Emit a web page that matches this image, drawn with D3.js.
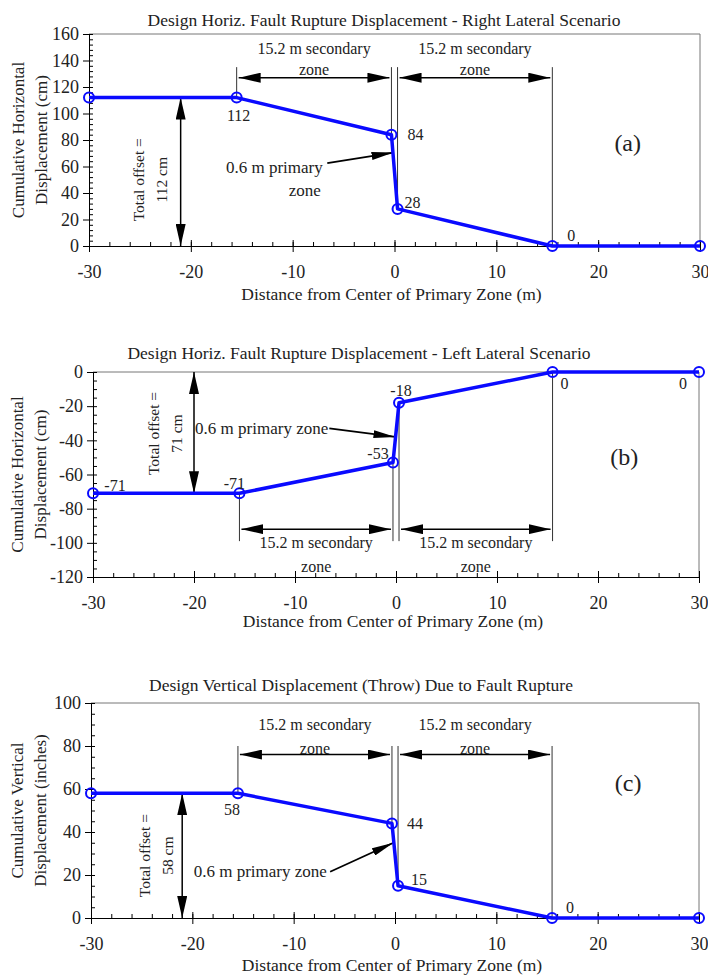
<!DOCTYPE html>
<html lang="en">
<head>
<meta charset="utf-8">
<title>Design fault rupture displacement</title>
<script src="https://cdn.jsdelivr.net/npm/d3@7"></script>
<style>
  body { margin: 0; background: #fff; }
  svg { display: block; font-family: "Liberation Serif", "Times New Roman", serif; }
  .axis text { font-family: "Liberation Serif", "Times New Roman", serif; font-size: 18px; fill: #222; }
  .axis path, .axis line { stroke: #000; }
</style>
</head>
<body>
<script>
// distance from center of primary zone (m)
var xDist = [-30, -15.5, -0.3, 0.3, 15.5, 30];

// cumulative displacement at each break point
var rightLateral = [112, 112, 84, 28, 0, 0];   // cm
var leftLateral = [-71, -71, -53, -18, 0, 0];  // cm
var verticalThrow = [58, 58, 44, 15, 0, 0];    // labelled inches on the axis, cm in the note

var labelsA = ["", "112", "84", "28", "0", ""];
var labelsB = ["-71", "-71", "-53", "-18", "0", "0"];
var labelsC = ["", "58", "44", "15", "0", ""];

var xTicks = [-30, -20, -10, 0, 10, 20, 30];
var yTicksA = [0, 20, 40, 60, 80, 100, 120, 140, 160];
var yTicksB = [-120, -100, -80, -60, -40, -20, 0];
var yTicksC = [0, 20, 40, 60, 80, 100];

var titles = [
  "Design Horiz. Fault Rupture Displacement - Right Lateral Scenario",
  "Design Horiz. Fault Rupture Displacement - Left Lateral Scenario",
  "Design Vertical Displacement (Throw) Due to Fault Rupture"
];
var xLabel = "Distance from Center of Primary Zone (m)";

var w = 708, h = 975;
var blue = "#0a0aff";
var ink = "#222";

var svg = d3.select("body").append("svg")
  .attr("width", w)
  .attr("height", h);

var defs = svg.append("defs");
defs.append("marker")
  .attr("id", "head")
  .attr("markerUnits", "userSpaceOnUse")
  .attr("markerWidth", 22).attr("markerHeight", 10)
  .attr("refX", 22).attr("refY", 5)
  .attr("orient", "auto-start-reverse")
  .append("path").attr("d", "M0,0L22,5L0,10Z").attr("fill", "#000");
defs.append("marker")
  .attr("id", "headSmall")
  .attr("markerUnits", "userSpaceOnUse")
  .attr("markerWidth", 22).attr("markerHeight", 8)
  .attr("refX", 22).attr("refY", 4)
  .attr("orient", "auto")
  .append("path").attr("d", "M0,0L22,4L0,8Z").attr("fill", "#000");

// layout of the three panels (pixels) and where the annotations sit (data units)
var panels = [
  {
    values: rightLateral, labels: labelsA, yTicks: yTicksA, yDomain: [0, 160], yMinor: 4,
    left: 89, right: 700, top: 34, bottom: 246,
    title: titles[0], titleX: 384, titleY: 20, xLabelY: 294,
    yLabel: ["Cumulative Horizontal", "Displacement (cm)"], yLabelX: [18, 41],
    labelOff: [[0, 0], [2, 18], [24, 0], [15, -6], [19, -11], [0, 0]],
    guideY: 135, zoneArrowY: 127, zoneTextY: [149, 133],
    offsetX: -21, offsetText: ["Total offset =", "112 cm"], offsetTextY: 50, offsetDx: [-42, -19],
    primary: { lines: ["0.6 m primary", "zone"], textX: [-11.8, -8.8], textY: [59, 42], from: [-6.6, 62.5], to: [-0.1, 70.5] },
    tag: "(a)", tagX: 22.9, tagY: 78
  },
  {
    values: leftLateral, labels: labelsB, yTicks: yTicksB, yDomain: [-120, 0], yMinor: 5,
    left: 93, right: 699, top: 372, bottom: 577,
    title: titles[1], titleX: 359, titleY: 353, xLabelY: 621,
    yLabel: ["Cumulative Horizontal", "Displacement  (cm)"], yLabelX: [17, 40],
    labelOff: [[22, -8], [-5, -10], [-15, -9], [2, -12], [12, 11], [-16, 11]],
    guideY: -99, zoneArrowY: -92, zoneTextY: [-100, -114],
    offsetX: -20, offsetText: ["Total offset =", "71 cm"], offsetTextY: -36, offsetDx: [-41, -18],
    primary: { lines: ["0.6 m primary zone"], textX: [-13.3], textY: [-33], from: [-6.6, -33], to: [-0.05, -38] },
    tag: "(b)", tagX: 22.6, tagY: -50
  },
  {
    values: verticalThrow, labels: labelsC, yTicks: yTicksC, yDomain: [0, 100], yMinor: 5,
    left: 91, right: 699, top: 703, bottom: 918,
    title: titles[2], titleX: 361, titleY: 685, xLabelY: 965,
    yLabel: ["Cumulative Vertical", "Displacement  (inches)"], yLabelX: [17, 40],
    labelOff: [[0, 0], [-6, 16], [23, 0], [21, -6], [18, -11], [0, 0]],
    guideY: 80, zoneArrowY: 76, zoneTextY: [90, 79],
    offsetX: -21, offsetText: ["Total offset =", "58 cm"], offsetTextY: 29, offsetDx: [-38, -15],
    primary: { lines: ["0.6 m primary zone"], textX: [-13.3], textY: [21.5], from: [-6.4, 21.5], to: [-0.15, 35] },
    tag: "(c)", tagX: 23, tagY: 63
  }
];

var fmt = function(d) { return String(d); };  // plain hyphen for negatives

panels.forEach(function(p) {
  var x = d3.scaleLinear().domain([-30, 30]).range([p.left, p.right]);
  var y = d3.scaleLinear().domain(p.yDomain).range([p.bottom, p.top]);
  var g = svg.append("g");

  // frame: top and right edges
  g.append("path")
    .attr("d", "M" + p.left + "," + p.top + "H" + p.right + "V" + p.bottom)
    .attr("fill", "none").attr("stroke", "#777").attr("stroke-width", 1);

  // x axis: major ticks cross the axis, minor ticks inside
  g.append("g").attr("class", "axis")
    .attr("transform", "translate(0," + p.bottom + ")")
    .call(d3.axisBottom(x).tickValues(d3.range(-30, 31, 2)).tickSize(-4).tickFormat(""))
    .select(".domain").remove();
  g.append("g").attr("class", "axis")
    .attr("transform", "translate(0," + p.bottom + ")")
    .call(d3.axisBottom(x).tickValues(xTicks).tickSize(-6).tickFormat(""))
    .select(".domain").remove();
  g.append("g").attr("class", "axis")
    .attr("transform", "translate(0," + p.bottom + ")")
    .call(d3.axisBottom(x).tickValues(xTicks).tickSize(6).tickPadding(13).tickSizeOuter(0).tickFormat(fmt));

  // y axis
  g.append("g").attr("class", "axis")
    .attr("transform", "translate(" + p.left + ",0)")
    .call(d3.axisLeft(y).tickValues(d3.range(p.yDomain[0], p.yDomain[1] + 1, p.yMinor)).tickSize(-4).tickFormat(""))
    .select(".domain").remove();
  g.append("g").attr("class", "axis")
    .attr("transform", "translate(" + p.left + ",0)")
    .call(d3.axisLeft(y).tickValues(p.yTicks).tickSize(6).tickPadding(4).tickSizeOuter(0).tickFormat(fmt));

  // title and axis labels
  g.append("text")
    .attr("x", p.titleX).attr("y", p.titleY)
    .attr("text-anchor", "middle").attr("dominant-baseline", "central")
    .attr("font-size", 17.5).attr("fill", ink)
    .text(p.title);
  g.append("text")
    .attr("x", (p.left + p.right) / 2 - 3).attr("y", p.xLabelY)
    .attr("text-anchor", "middle").attr("dominant-baseline", "central")
    .attr("font-size", 17.5).attr("fill", ink)
    .text(xLabel);
  p.yLabel.forEach(function(line, i) {
    g.append("text")
      .attr("transform", "translate(" + p.yLabelX[i] + "," + (p.top + p.bottom) / 2 + ") rotate(-90)")
      .attr("text-anchor", "middle").attr("dominant-baseline", "central")
      .attr("font-size", 17).attr("fill", ink)
      .text(line);
  });

  // guide lines bounding the zones
  var v = p.values;
  [1, 2, 3, 4].forEach(function(i) {
    g.append("line")
      .attr("x1", x(xDist[i])).attr("x2", x(xDist[i]))
      .attr("y1", y(p.guideY)).attr("y2", y(v[i]))
      .attr("stroke", "#333").attr("stroke-width", 1);
  });

  // secondary zone double arrows and text
  [[1, 2], [3, 4]].forEach(function(pair) {
    var a = x(xDist[pair[0]]) + 2, b = x(xDist[pair[1]]) - 2;
    g.append("line")
      .attr("x1", a).attr("x2", b)
      .attr("y1", y(p.zoneArrowY)).attr("y2", y(p.zoneArrowY))
      .attr("stroke", "#000").attr("stroke-width", 1.5)
      .attr("marker-start", "url(#head)").attr("marker-end", "url(#head)");
    ["15.2 m secondary", "zone"].forEach(function(t, k) {
      g.append("text")
        .attr("x", (a + b) / 2).attr("y", y(p.zoneTextY[k]))
        .attr("text-anchor", "middle").attr("dominant-baseline", "central")
        .attr("font-size", 16).attr("fill", ink)
        .text(t);
    });
  });

  // total offset arrow
  g.append("line")
    .attr("x1", x(p.offsetX)).attr("x2", x(p.offsetX))
    .attr("y1", y(v[0])).attr("y2", y(0))
    .attr("stroke", "#000").attr("stroke-width", 1.5)
    .attr("marker-start", "url(#head)").attr("marker-end", "url(#head)");
  p.offsetText.forEach(function(t, k) {
    g.append("text")
      .attr("transform", "translate(" + (x(p.offsetX) + p.offsetDx[k]) + "," + y(p.offsetTextY) + ") rotate(-90)")
      .attr("text-anchor", "middle").attr("dominant-baseline", "central")
      .attr("font-size", 15.5).attr("fill", ink)
      .text(t);
  });

  // primary zone callout
  var pr = p.primary;
  pr.lines.forEach(function(t, k) {
    g.append("text")
      .attr("x", x(pr.textX[k])).attr("y", y(pr.textY[k]))
      .attr("text-anchor", "middle").attr("dominant-baseline", "central")
      .attr("font-size", 17).attr("fill", ink)
      .text(t);
  });
  g.append("line")
    .attr("x1", x(pr.from[0])).attr("y1", y(pr.from[1]))
    .attr("x2", x(pr.to[0])).attr("y2", y(pr.to[1]))
    .attr("stroke", "#000").attr("stroke-width", 1.8)
    .attr("marker-end", "url(#headSmall)");

  // panel tag
  g.append("text")
    .attr("x", x(p.tagX)).attr("y", y(p.tagY))
    .attr("text-anchor", "middle").attr("dominant-baseline", "central")
    .attr("font-size", 24).attr("fill", ink)
    .text(p.tag);

  // displacement profile
  var pts = xDist.map(function(d, i) { return [d, v[i]]; });
  g.append("path")
    .datum(pts)
    .attr("fill", "none").attr("stroke", blue).attr("stroke-width", 3.5)
    .attr("stroke-linejoin", "round")
    .attr("d", d3.line().x(function(d) { return x(d[0]); }).y(function(d) { return y(d[1]); }));
  g.selectAll("circle.pt")
    .data(pts)
    .enter().append("circle")
    .attr("class", "pt")
    .attr("cx", function(d) { return x(d[0]); })
    .attr("cy", function(d) { return y(d[1]); })
    .attr("r", 5)
    .attr("fill", "none").attr("stroke", blue).attr("stroke-width", 2);

  // point value labels
  g.selectAll("text.val")
    .data(pts)
    .enter().append("text")
    .attr("class", "val")
    .attr("x", function(d, i) { return x(d[0]) + p.labelOff[i][0]; })
    .attr("y", function(d, i) { return y(d[1]) + p.labelOff[i][1]; })
    .attr("text-anchor", "middle").attr("dominant-baseline", "central")
    .attr("font-size", 16).attr("fill", ink)
    .text(function(d, i) { return p.labels[i]; });
});
</script>
</body>
</html>
